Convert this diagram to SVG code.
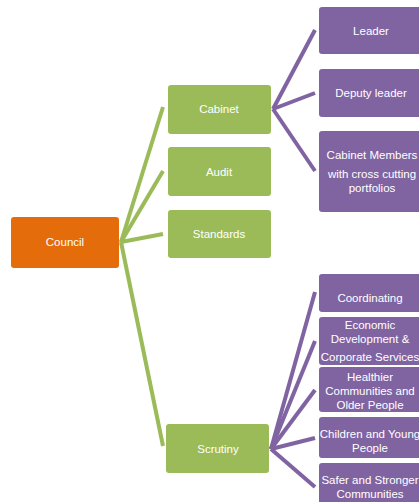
<svg xmlns="http://www.w3.org/2000/svg" width="419" height="502" viewBox="0 0 419 502">
  <style>
    .orange { fill: #E46C0A; }
    .green { fill: #9BBB59; }
    .purple { fill: #8064A2; }
    .gline { stroke: #9BBB59; stroke-width: 4; fill: none; stroke-linecap: butt; }
    .pline { stroke: #8064A2; stroke-width: 4; fill: none; stroke-linecap: butt; }
    text { font-family: "Liberation Sans", Arial, sans-serif; font-size: 11.5px; fill: #ffffff; text-anchor: middle; }
  </style>

  <g id="connectors">
    <!-- Council to committees -->
    <line class="gline" x1="121" y1="242" x2="163" y2="107"/>
    <line class="gline" x1="121" y1="242" x2="163" y2="171"/>
    <line class="gline" x1="121" y1="242" x2="163" y2="234"/>
    <line class="gline" x1="121" y1="242" x2="163" y2="446"/>
    <!-- Cabinet to members -->
    <line class="pline" x1="273" y1="109" x2="315" y2="30"/>
    <line class="pline" x1="273" y1="109" x2="315" y2="93"/>
    <line class="pline" x1="273" y1="109" x2="315" y2="171"/>
    <!-- Scrutiny to panels -->
    <line class="pline" x1="271" y1="449" x2="315" y2="292"/>
    <line class="pline" x1="271" y1="449" x2="315" y2="341"/>
    <line class="pline" x1="271" y1="449" x2="315" y2="390"/>
    <line class="pline" x1="271" y1="449" x2="315" y2="438"/>
    <line class="pline" x1="271" y1="449" x2="315" y2="487"/>
  </g>

  <g id="council">
    <rect class="orange" x="11" y="217" width="108" height="51" rx="3"/>
    <text x="65" y="246">Council</text>
  </g>

  <g id="cabinet">
    <rect class="green" x="168" y="85" width="103" height="49" rx="3"/>
    <text x="219" y="113">Cabinet</text>
  </g>
  <g id="audit">
    <rect class="green" x="168" y="147" width="103" height="49" rx="3"/>
    <text x="219" y="176">Audit</text>
  </g>
  <g id="standards">
    <rect class="green" x="168" y="210" width="103" height="48" rx="3"/>
    <text x="219" y="238">Standards</text>
  </g>
  <g id="scrutiny">
    <rect class="green" x="166" y="424" width="103" height="49" rx="3"/>
    <text x="218" y="453">Scrutiny</text>
  </g>

  <g id="leader">
    <rect class="purple" x="319" y="7" width="104" height="47" rx="3"/>
    <text x="371" y="35">Leader</text>
  </g>
  <g id="deputy-leader">
    <rect class="purple" x="319" y="69" width="104" height="48" rx="3"/>
    <text x="371" y="97">Deputy leader</text>
  </g>
  <g id="cabinet-members">
    <rect class="purple" x="319" y="131" width="104" height="81" rx="3"/>
    <text x="372" y="159">Cabinet Members</text>
    <text x="372" y="178">with cross cutting</text>
    <text x="372" y="192">portfolios</text>
  </g>

  <g id="coordinating">
    <rect class="purple" x="319" y="274" width="104" height="38" rx="3"/>
    <text x="370" y="302">Coordinating</text>
  </g>
  <g id="economic">
    <rect class="purple" x="319" y="317" width="104" height="48" rx="3"/>
    <text x="370" y="329">Economic</text>
    <text x="370" y="343">Development &amp;</text>
    <text x="370" y="361">Corporate Services</text>
  </g>
  <g id="healthier">
    <rect class="purple" x="319" y="367" width="104" height="45" rx="3"/>
    <text x="370" y="381">Healthier</text>
    <text x="370" y="395">Communities and</text>
    <text x="370" y="409">Older People</text>
  </g>
  <g id="children">
    <rect class="purple" x="319" y="417" width="104" height="41" rx="3"/>
    <text x="370" y="438">Children and Young</text>
    <text x="370" y="452">People</text>
  </g>
  <g id="safer">
    <rect class="purple" x="319" y="463" width="104" height="45" rx="3"/>
    <text x="370" y="484">Safer and Stronger</text>
    <text x="370" y="498">Communities</text>
  </g>
</svg>
